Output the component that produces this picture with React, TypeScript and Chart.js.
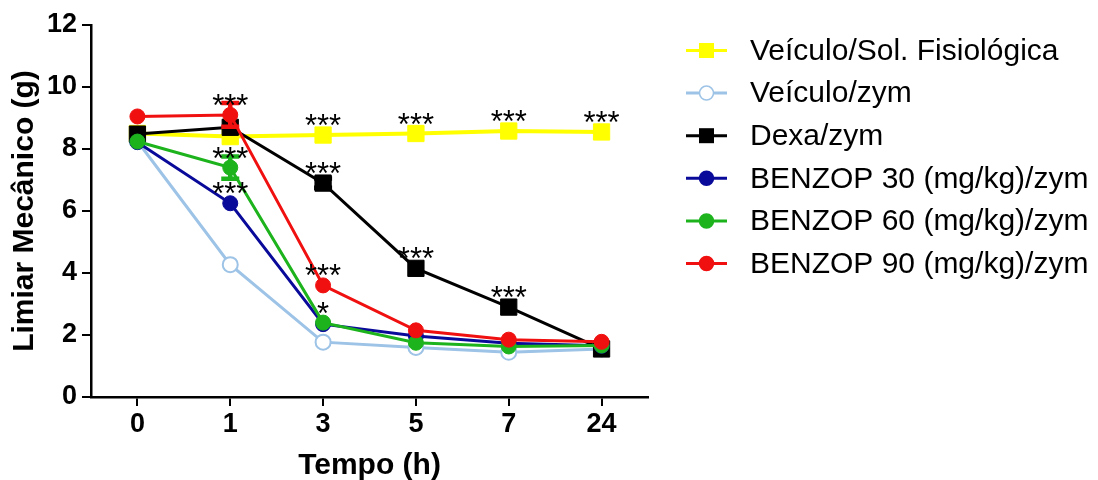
import { useEffect, useRef } from 'react';
import { Chart, registerables } from 'chart.js';

Chart.register(...registerables);

// ---------- data ----------
const timeLabels = ['0', '1', '3', '5', '7', '24'];

const seriesNames = [
  'Veículo/Sol. Fisiológica',
  'Veículo/zym',
  'Dexa/zym',
  'BENZOP 30 (mg/kg)/zym',
  'BENZOP 60 (mg/kg)/zym',
  'BENZOP 90 (mg/kg)/zym',
];

const salineValues = [8.5, 8.4, 8.45, 8.5, 8.58, 8.55];
const vehicleZymValues = [8.25, 4.27, 1.77, 1.6, 1.44, 1.55];
const dexaValues = [8.48, 8.7, 6.9, 4.15, 2.9, 1.55];
const benzop30Values = [8.22, 6.25, 2.35, 1.97, 1.73, 1.65];
const benzop60Values = [8.24, 7.4, 2.4, 1.75, 1.63, 1.66];
const benzop90Values = [9.05, 9.1, 3.6, 2.15, 1.85, 1.78];

const salineErrors = [0, 0, 0, 0, 0, 0];
const vehicleZymErrors = [0, 0, 0, 0, 0, 0];
const dexaErrors = [0, 0, 0.15, 0, 0, 0];
const benzop30Errors = [0, 0, 0, 0, 0, 0];
const benzop60Errors = [0, 0.36, 0, 0, 0, 0];
const benzop90Errors = [0, 0.38, 0, 0, 0, 0];

// significance marks: which series / time point they sit above
const markSeries = [5, 4, 3, 0, 2, 5, 4, 0, 2, 0, 2, 0];
const markPoints = [1, 1, 1, 2, 2, 2, 2, 3, 3, 4, 4, 5];
const markTexts = ['***', '***', '***', '***', '***', '***', '*', '***', '***', '***', '***', '***'];

const yTicksMin = 0;
const yTicksMax = 12;
const yTicksStep = 2;

// ---------- styles ----------
const FONT = "'Liberation Sans', Arial, Helvetica, sans-serif";
const colors = ['#FFFF00', '#9DC3E6', '#000000', '#0A0A9A', '#1DB31D', '#F01010'];
const pointStyles = ['rect', 'circle', 'rect', 'circle', 'circle', 'circle'];

const errorBarPlugin = {
  id: 'errorBars',
  afterDatasetDraw(chart: any, args: any) {
    const ds = chart.data.datasets[args.index];
    const errs: number[] | undefined = ds.errors;
    if (!errs) return;
    const yScale = chart.scales.y;
    const ctx = chart.ctx;
    ctx.save();
    ctx.strokeStyle = ds.borderColor;
    ctx.lineWidth = 4.5;
    args.meta.data.forEach((pt: any, i: number) => {
      const e = errs[i];
      if (!e) return;
      const v = ds.data[i];
      const top = yScale.getPixelForValue(v + e);
      const bot = yScale.getPixelForValue(v - e);
      ctx.beginPath();
      ctx.moveTo(pt.x, top);
      ctx.lineTo(pt.x, bot);
      ctx.moveTo(pt.x - 9, top);
      ctx.lineTo(pt.x + 9, top);
      ctx.moveTo(pt.x - 9, bot);
      ctx.lineTo(pt.x + 9, bot);
      ctx.stroke();
    });
    ctx.restore();
  },
};

const marksPlugin = {
  id: 'sigMarks',
  afterDatasetsDraw(chart: any) {
    const ctx = chart.ctx;
    ctx.save();
    ctx.fillStyle = '#000';
    ctx.font = `31px ${FONT}`;
    ctx.textAlign = 'center';
    ctx.textBaseline = 'alphabetic';
    markTexts.forEach((t, k) => {
      const meta = chart.getDatasetMeta(markSeries[k]);
      const pt = meta.data[markPoints[k]];
      if (!pt) return;
      ctx.fillText(t, pt.x, pt.y + 1);
    });
    ctx.restore();
  },
};

const legendPlugin = {
  id: 'sideLegend',
  afterDraw(chart: any) {
    const ctx = chart.ctx;
    const x0 = 686;
    const x1 = 727;
    const xm = (x0 + x1) / 2;
    const textX = 750;
    const rowY0 = 50.5;
    const rowStep = 42.6;
    ctx.save();
    chart.data.datasets.forEach((ds: any, i: number) => {
      const y = rowY0 + i * rowStep;
      ctx.strokeStyle = ds.borderColor;
      ctx.lineWidth = 3;
      ctx.beginPath();
      ctx.moveTo(x0, y);
      ctx.lineTo(x1, y);
      ctx.stroke();
      if (ds.pointStyle === 'rect') {
        ctx.fillStyle = ds.borderColor;
        ctx.fillRect(xm - 7.5, y - 7.5, 15, 15);
      } else {
        ctx.beginPath();
        ctx.arc(xm, y, 7, 0, Math.PI * 2);
        ctx.fillStyle = ds.pointBackgroundColor;
        ctx.fill();
        ctx.lineWidth = 1.5;
        ctx.stroke();
      }
      ctx.fillStyle = '#000';
      ctx.font = `30px ${FONT}`;
      ctx.textAlign = 'left';
      ctx.textBaseline = 'middle';
      ctx.fillText(ds.label, textX, y + 1);
    });
    ctx.restore();
  },
};

export default function App() {
  const canvasRef = useRef<HTMLCanvasElement | null>(null);

  useEffect(() => {
    if (!canvasRef.current) return;
    const values = [salineValues, vehicleZymValues, dexaValues, benzop30Values, benzop60Values, benzop90Values];
    const errors = [salineErrors, vehicleZymErrors, dexaErrors, benzop30Errors, benzop60Errors, benzop90Errors];
    const datasets = seriesNames.map((name, i) => {
      const isRect = pointStyles[i] === 'rect';
      const isOpen = i === 1;
      return {
        label: name,
        data: values[i],
        errors: errors[i],
        borderColor: colors[i],
        backgroundColor: colors[i],
        pointBackgroundColor: isOpen ? '#FFFFFF' : colors[i],
        pointBorderColor: colors[i],
        pointBorderWidth: isOpen ? 2 : 1,
        pointStyle: pointStyles[i],
        pointRadius: isRect ? 11.5 : 7.5,
        borderWidth: i === 0 ? 4 : 3,
        tension: 0,
        order: 6 - i,
        clip: false as any,
      };
    });

    const chart = new Chart(canvasRef.current, {
      type: 'line',
      data: { labels: timeLabels, datasets: datasets as any },
      options: {
        animation: false,
        responsive: false,
        devicePixelRatio: 1,
        layout: { padding: { left: 0, right: 450, top: 25, bottom: 0 } },
        plugins: {
          legend: { display: false },
          tooltip: { enabled: false },
          title: { display: false },
        },
        scales: {
          x: {
            type: 'category',
            offset: true,
            afterFit: (scale: any) => {
              scale.height = 83;
            },
            grid: {
              offset: false,
              drawOnChartArea: false,
              drawTicks: true,
              tickLength: 9,
              color: '#000',
              lineWidth: 2,
            },
            border: { display: true, color: '#000', width: 2.5 },
            ticks: {
              color: '#000',
              font: { family: FONT, size: 27, weight: 'bold' },
              padding: 2,
              maxRotation: 0,
            },
            title: {
              display: true,
              text: 'Tempo (h)',
              color: '#000',
              font: { family: FONT, size: 30, weight: 'bold' },
              padding: { top: 0, bottom: -4 },
            },
          },
          y: {
            type: 'linear',
            min: yTicksMin,
            max: yTicksMax,
            afterFit: (scale: any) => {
              scale.width = 91;
            },
            grid: {
              drawOnChartArea: false,
              drawTicks: true,
              tickLength: 9,
              color: '#000',
              lineWidth: 2,
            },
            border: { display: true, color: '#000', width: 2.5 },
            ticks: {
              stepSize: yTicksStep,
              color: '#000',
              font: { family: FONT, size: 27, weight: 'bold' },
              padding: 5,
            },
            title: {
              display: true,
              text: 'Limiar Mecânico (g)',
              color: '#000',
              font: { family: FONT, size: 30, weight: 'bold' },
              padding: { top: 7, bottom: 0 },
            },
          },
        },
      },
      plugins: [errorBarPlugin, marksPlugin, legendPlugin],
    });

    return () => {
      chart.destroy();
    };
  }, []);

  return (
    <div style={{ position: 'absolute', left: 0, top: 0, width: 1098, height: 480, background: '#fff' }}>
      <canvas ref={canvasRef} width={1098} height={480} style={{ display: 'block' }} />
    </div>
  );
}
